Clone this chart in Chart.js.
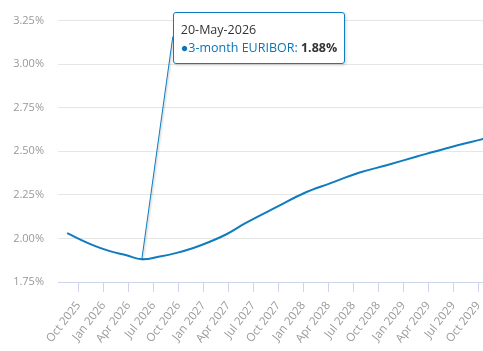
<!DOCTYPE html>
<html lang="en">
<head>
<meta charset="UTF-8">
<title>3-month EURIBOR</title>
<script src="https://cdn.jsdelivr.net/npm/chart.js"></script>
<style>
    body { margin: 0; background: #fff; }
    .wrap { position: relative; width: 483px; height: 351px; overflow: hidden; }
    .tt {
        position: absolute;
        background: rgba(255, 255, 255, 0.96);
        border: 1px solid #0f7cc0;
        border-radius: 3px;
        box-shadow: 1px 1px 3px rgba(0, 0, 0, 0.18);
        padding: 8px 7px 6px 7px;
        font-family: 'Open Sans', sans-serif;
        font-size: 12.5px;
        line-height: 18px;
        color: #333;
        white-space: nowrap;
    }
    .tt .serie { color: #0b74b8; }
</style>
</head>
<body>
<div class="wrap">
    <canvas id="grafico" width="483" height="351"></canvas>
    <div class="tt" id="tooltip"></div>
</div>
<script>
    // forward curve
    const datas = [
        '2025-08-21', '2025-11-25', '2026-01-25', '2026-03-25', '2026-05-20',
        '2026-07-25', '2026-09-25', '2026-11-25', '2027-01-25', '2027-03-25',
        '2027-06-01', '2027-10-01', '2028-01-01', '2028-04-07', '2028-07-25',
        '2028-11-01', '2029-02-19', '2029-06-01', '2029-10-31'
    ];
    const taxas = [
        2.03, 1.96, 1.927, 1.903, 1.88,
        1.896, 1.917, 1.945, 1.981, 2.024,
        2.086, 2.185, 2.258, 2.316, 2.378,
        2.42, 2.47, 2.515, 2.575
    ];
    const nomeSerie = '3-month EURIBOR';
    const dataTooltip = '2026-05-20';

    // eixo x
    const rotulosX = [
        'Oct 2025', 'Jan 2026', 'Apr 2026', 'Jul 2026', 'Oct 2026',
        'Jan 2027', 'Apr 2027', 'Jul 2027', 'Oct 2027', 'Jan 2028',
        'Apr 2028', 'Jul 2028', 'Oct 2028', 'Jan 2029', 'Apr 2029',
        'Jul 2029', 'Oct 2029'
    ];
    const inicioX = '2025-07-18';
    const fimX = '2029-10-19';

    // eixo y
    const yMin = 1.75;
    const yMax = 3.25;
    const yPasso = 0.25;

    const meses = ['Jan', 'Feb', 'Mar', 'Apr', 'May', 'Jun', 'Jul', 'Aug', 'Sep', 'Oct', 'Nov', 'Dec'];
    const cor = '#0f7cc0';

    // months counted from Jan 2025
    function paraMes(s) {
        const [a, m, d] = s.split('-').map(Number);
        const diasMes = new Date(a, m, 0).getDate();
        return (a - 2025) * 12 + (m - 1) + (d - 1) / diasMes;
    }
    function rotuloParaMes(r) {
        const [m, a] = r.split(' ');
        return (Number(a) - 2025) * 12 + meses.indexOf(m);
    }
    function formatarData(s) {
        const [a, m, d] = s.split('-');
        return d + '-' + meses[Number(m) - 1] + '-' + a;
    }

    const pontos = datas.map((d, i) => ({ x: paraMes(d), y: taxas[i] }));
    const posTicks = rotulosX.map(rotuloParaMes);

    Chart.defaults.font.family = "'Open Sans', sans-serif";
    Chart.defaults.font.size = 11;

    // tooltip fixo com a linha ligando ao ponto
    const idxTooltip = datas.indexOf(dataTooltip);
    const tooltipEl = document.getElementById('tooltip');
    tooltipEl.innerHTML = '<div>' + formatarData(dataTooltip) + '</div>' +
        '<div><span class="serie">\u25CF' + nomeSerie + ': </span><b>' + taxas[idxTooltip].toFixed(2) + '%</b></div>';

    const pluginTooltip = {
        id: 'tooltipFixo',
        afterDraw(chart) {
            const p = chart.getDatasetMeta(0).data[idxTooltip];
            const left = p.x + 31;
            const top = chart.chartArea.top - 9;
            tooltipEl.style.left = left + 'px';
            tooltipEl.style.top = top + 'px';
            const ctx = chart.ctx;
            ctx.save();
            ctx.shadowColor = 'rgba(0,0,0,0.25)';
            ctx.shadowOffsetX = 1;
            ctx.shadowOffsetY = 1;
            ctx.shadowBlur = 2;
            ctx.strokeStyle = cor;
            ctx.lineWidth = 1;
            ctx.beginPath();
            ctx.moveTo(p.x, p.y);
            ctx.lineTo(left, top + 25);
            ctx.stroke();
            ctx.restore();
        }
    };

    const config = {
        type: 'line',
        data: {
            datasets: [{
                label: nomeSerie,
                data: pontos,
                borderColor: cor,
                backgroundColor: cor,
                borderWidth: 2,
                pointRadius: 0,
                tension: 0.4,
                fill: false
            }]
        },
        options: {
            responsive: false,
            animation: false,
            layout: { padding: { top: 6, right: 0, left: 0, bottom: 0 } },
            plugins: {
                legend: { display: false },
                tooltip: { enabled: false }
            },
            scales: {
                x: {
                    type: 'linear',
                    min: paraMes(inicioX),
                    max: paraMes(fimX),
                    afterBuildTicks(s) {
                        s.ticks = posTicks.map(v => ({ value: v }));
                    },
                    afterFit(s) {
                        s.paddingLeft = 0;
                        s.paddingRight = 0;
                        s.height = 69;
                    },
                    grid: { drawOnChartArea: false, color: '#ccd6eb', tickLength: 10 },
                    border: { color: '#ccd6eb' },
                    ticks: {
                        autoSkip: false,
                        minRotation: 52,
                        maxRotation: 52,
                        padding: 7,
                        color: '#999999',
                        font: { size: 11.5 },
                        callback: (v) => rotulosX[posTicks.indexOf(v)] || ''
                    }
                },
                y: {
                    min: yMin,
                    max: yMax,
                    afterFit(s) { s.width = 58; },
                    grid: { color: '#e6e6e6', drawTicks: false },
                    border: { display: false },
                    ticks: {
                        stepSize: yPasso,
                        padding: 14,
                        color: '#999999',
                        callback: (v) => v.toFixed(2) + '%'
                    }
                }
            }
        },
        plugins: [pluginTooltip]
    };

    const grafico = new Chart(document.getElementById('grafico'), config);
</script>
</body>
</html>
